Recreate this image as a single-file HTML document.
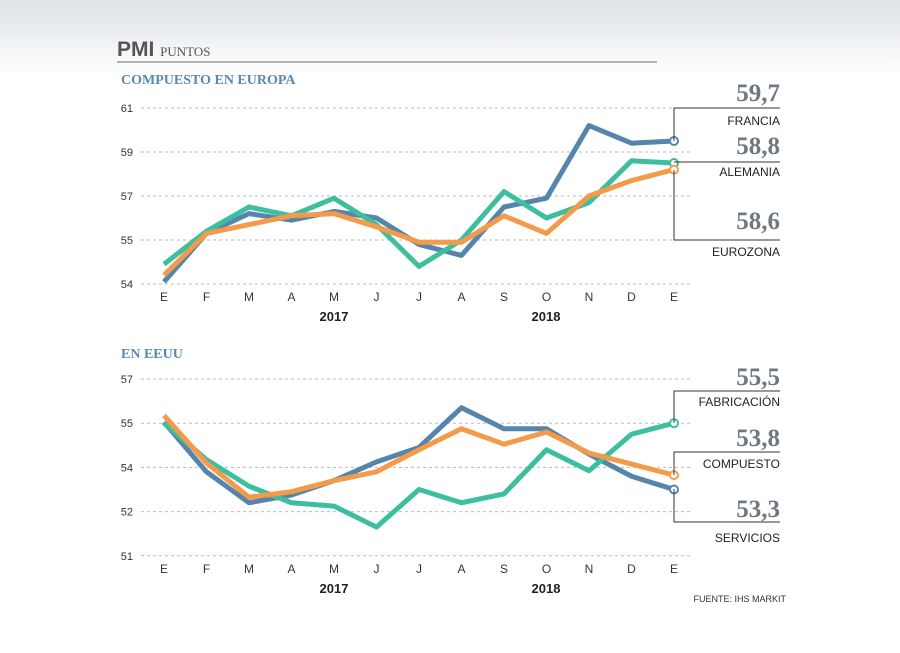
<!DOCTYPE html>
<html><head><meta charset="utf-8"><style>
body{margin:0;width:900px;height:653px;overflow:hidden;background:#fff;font-family:"Liberation Sans",sans-serif}
#hdr{position:absolute;left:0;top:0;width:900px;height:75px;background:linear-gradient(#dde2e7,#fff)}
svg{position:absolute;left:0;top:0}
</style></head><body>
<div id="hdr"></div>
<svg id="c" width="900" height="653">
<text x="117" y="56" font-size="21" font-weight="bold" fill="#555" font-family="Liberation Sans Narrow,Liberation Sans">PMI <tspan font-size="13" font-weight="normal" font-family="Liberation Serif">PUNTOS</tspan></text>
<line x1="117" y1="62" x2="657" y2="62" stroke="#999" stroke-width="1.5"/>
<text x="121" y="84" font-size="14" font-weight="bold" fill="#5a88b0" font-family="Liberation Serif">COMPUESTO EN EUROPA</text>
<text x="121" y="358" font-size="14" font-weight="bold" fill="#5a88b0" font-family="Liberation Serif">EN EEUU</text>
<text x="786" y="602" font-size="9" fill="#333" text-anchor="end">FUENTE: IHS MARKIT</text>
</svg>
<script>
const months=["E","F","M","A","M","J","J","A","S","O","N","D","E"];
const years=["2017","2018"];
const euTickVals=[61,59,57,55,53];
const euTickLabels=["61","59","57","55","54"];
const euFrancia=[53.1,55.3,56.2,55.9,56.3,56,54.8,54.3,56.5,56.9,60.2,59.4,59.5];
const euAlemania=[53.9,55.4,56.5,56.1,56.9,55.7,53.8,55,57.2,56,56.7,58.6,58.5];
const euEurozona=[53.4,55.3,55.7,56.1,56.2,55.6,54.9,54.9,56.1,55.3,57,57.7,58.2];
const usTickVals=[57,55,53,51,49];
const usTickLabels=["57","55","54","52","51"];
const usFab=[55.05,52.8,51.4,51.75,52.4,53.25,53.9,55.7,54.75,54.75,53.6,52.6,52.0];
const usServ=[55,53.35,52.15,51.4,51.25,50.3,52,51.4,51.8,53.8,52.85,54.5,55];
const usComp=[55.35,53.2,51.65,51.9,52.4,52.8,53.8,54.75,54.05,54.6,53.65,53.15,52.65];
const euLabels=[["59,7","FRANCIA"],["58,8","ALEMANIA"],["58,6","EUROZONA"]];
const usLabels=[["55,5","FABRICACIÓN"],["53,8","COMPUESTO"],["53,3","SERVICIOS"]];
const svg=document.getElementById('c');const NS="http://www.w3.org/2000/svg";
function mk(t,a,txt){const e=document.createElementNS(NS,t);for(const k in a)e.setAttribute(k,a[k]);if(txt!=null)e.textContent=txt;svg.appendChild(e);return e;}
const x=i=>164+i*42.5;
function panel(top,max,step,tv,tl,series,colors,names,yearY){
 const y=v=>top+(max-v)*step;
 tv.forEach((v,i)=>{
  const g=mk('line',{x1:141,x2:690,y1:y(v),y2:y(v),stroke:'#bbb','stroke-dasharray':'3,3'});
  
  
  const t=mk('text',{x:133,y:y(v)+4,'font-size':11,fill:'#333','text-anchor':'end'},tl[i]);
  
  
 });
 const by=y(tv[tv.length-1]);
 months.forEach((m,i)=>{
  const t=mk('text',{x:x(i),y:by+17,'font-size':12,fill:'#333','text-anchor':'middle'},m);
  
  
 });
 years.forEach((yr,i)=>{
  const t=mk('text',{x:i?546:334,y:yearY,'font-size':13,'font-weight':'bold',fill:'#222','text-anchor':'middle'},yr);
  
  
 });
 series.forEach((s,k)=>{
  const p=mk('polyline',{points:s.map((v,i)=>x(i)+','+y(v)).join(' '),fill:'none',stroke:colors[k],'stroke-width':5,'stroke-linejoin':'round'});
  
  
  const c=mk('circle',{cx:x(12),cy:y(s[12]),r:4,fill:'#fff',stroke:colors[k],'stroke-width':2});
  
  
 });
 return y;
}
const cols=['#5585ad','#3dbf9f','#f39a4b'];
panel(108,61,22,euTickVals,euTickLabels,[euFrancia,euAlemania,euEurozona],cols,['francia','alemania','eurozona'],321);
panel(379,57,22.1,usTickVals,usTickLabels,[usFab,usServ,usComp],[cols[0],cols[1],cols[2]],['fabricacion','servicios','compuesto'],593);
function lab(num,name,ny,ty,path){
 const p=mk('path',{d:path,fill:'none',stroke:'#333','stroke-width':1});
 
 
 const a=mk('text',{x:780,y:ny,'font-size':25,'font-weight':'bold',fill:'#6e7883','text-anchor':'end','font-family':'Liberation Serif'},num);
 
 
 const b=mk('text',{x:780,y:ty,'font-size':12,fill:'#222','text-anchor':'end'},name);
 
 
}
lab(euLabels[0][0],euLabels[0][1],101,125,'M674,141V108H780');
lab(euLabels[1][0],euLabels[1][1],154,176,'M674,162H780');
lab(euLabels[2][0],euLabels[2][1],229,256,'M674,170V240H780');
lab(usLabels[0][0],usLabels[0][1],385,406,'M674,423V391H780');
lab(usLabels[1][0],usLabels[1][1],446,468,'M674,475V452H780');
lab(usLabels[2][0],usLabels[2][1],517,542,'M674,489V522H780');
</script>
</body></html>
